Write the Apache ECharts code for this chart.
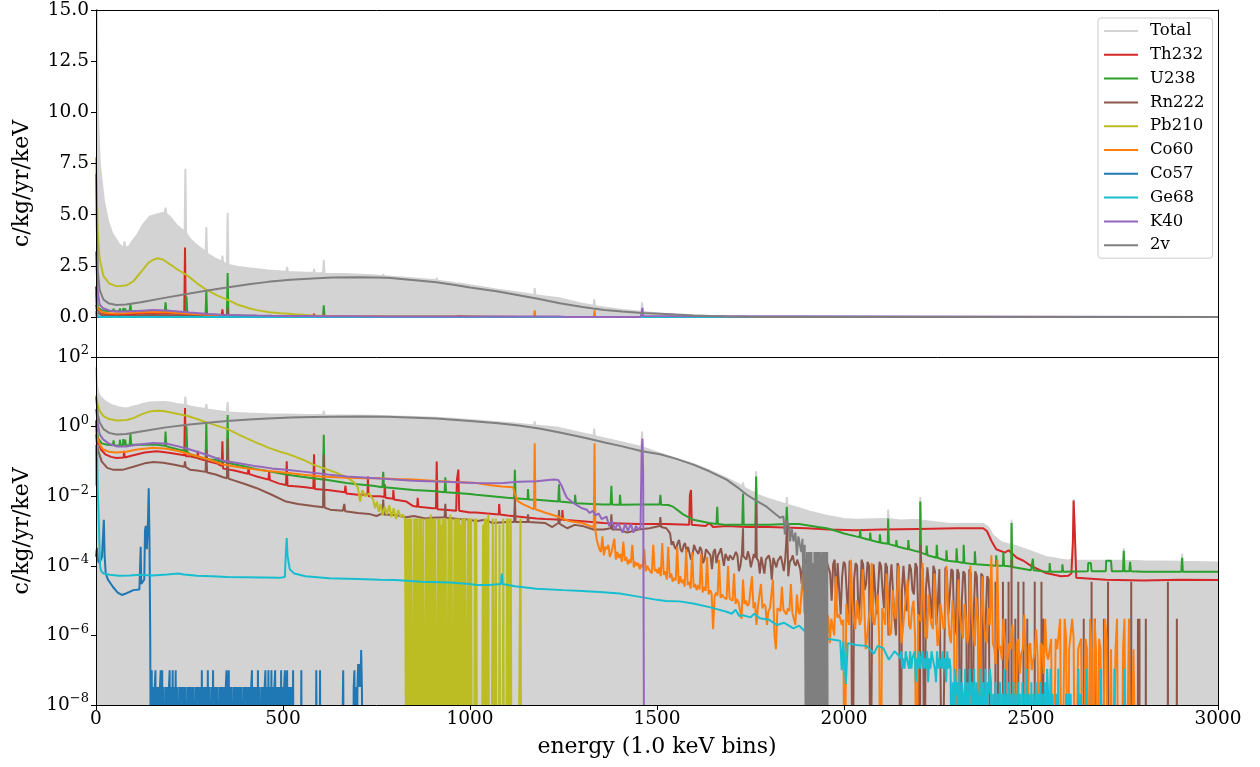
<!DOCTYPE html>
<html>
<head>
<meta charset="utf-8">
<script src="https://cdn.jsdelivr.net/npm/echarts@6/dist/echarts.min.js"></script>
<style>
  html, body { margin: 0; padding: 0; background: #fff; }
  #chart { width: 1260px; height: 767px; }
</style>
</head>
<body>
<div id="chart"></div>
<script>
// ---------------- axes ----------------
const energyTicks = [0, 500, 1000, 1500, 2000, 2500, 3000];
const linTicks = [0, 2.5, 5, 7.5, 10, 12.5, 15];
const logTicks = [1e-8, 1e-6, 1e-4, 1e-2, 1, 100];

const names = ['Total', 'Th232', 'U238', 'Rn222', 'Pb210', 'Co60', 'Co57', 'Ge68', 'K40', '2v'];
const colors = ['#d3d3d3', '#d62728', '#2ca02c', '#8c564b', '#bcbd22', '#ff7f0e', '#1f77b4', '#17becf', '#9467bd', '#7f7f7f'];

// ---------------- spectra: [energy keV, c/kg/yr/keV] ----------------
const totalSpec = [[0,50],[1,30],[3,14],[5,10],[10,7.5],[21,5.7],[32,4.7],[43,4.1],[60,3.6],[74,3.35],[76,3.7],[78,3.4],[88,3.45],[97,3.7],[110,4.0],[125,4.5],[143,4.9],[160,5.0],[176,5.07],[184,5.1],[186,5.35],[188,5.05],[200,4.85],[215,4.5],[231,4.25],[237,4.2],[239,7.25],[241,4.1],[252,3.8],[270,3.5],[285,3.3],[293,3.2],[295,4.4],[297,3.1],[320,2.85],[337,2.7],[338,3.0],[340,2.65],[350,2.6],[352,5.1],[354,2.55],[380,2.45],[409,2.38],[460,2.27],[509,2.22],[511,2.45],[513,2.2],[560,2.17],[582,2.16],[583,2.35],[585,2.15],[607,2.14],[609,2.8],[611,2.12],[660,2.1],[741,2.04],[767,2.0],[768,2.1],[770,2.0],[800,1.96],[853,1.88],[910,1.8],[911,1.92],[913,1.78],[964,1.65],[969,1.7],[971,1.64],[1000,1.55],[1075,1.33],[1119,1.22],[1120,1.3],[1122,1.21],[1172,1.08],[1173,1.42],[1175,1.07],[1238,0.92],[1239,0.98],[1241,0.9],[1297,0.66],[1331,0.55],[1332,0.87],[1334,0.53],[1407,0.35],[1458,0.26],[1460,0.72],[1462,0.25],[1508,0.17],[1550,0.12],[1597,0.085],[1640,0.055],[1686,0.033],[1729,0.019],[1730,0.025],[1732,0.018],[1750,0.014],[1764,0.012],[1765,0.052],[1767,0.011],[1793,0.0088],[1830,0.0065],[1846,0.0058],[1847,0.0095],[1849,0.0056],[1880,0.0045],[1909,0.0036],[1950,0.0028],[2000,0.0022],[2032,0.0021],[2105,0.0022],[2117,0.0022],[2118,0.0041],[2120,0.0022],[2150,0.002],[2203,0.0021],[2204,0.0095],[2206,0.002],[2283,0.0016],[2372,0.0016],[2385,0.0013],[2398,0.00075],[2420,0.00048],[2447,0.0004],[2448,0.0021],[2450,0.0004],[2500,0.00026],[2540,0.00018],[2600,0.00014],[2611,0.00016],[2613,0.001],[2614,0.0082],[2616,0.0082],[2617,0.001],[2619,0.00014],[2700,0.00014],[2747,0.00014],[2748,0.00032],[2750,0.00014],[2800,0.000135],[2903,0.00013],[2904,0.00022],[2906,0.00013],[3000,0.000125]];

const th232Spec = [[0,1.5],[2,0.6],[5,0.4],[8,0.32],[13,0.22],[25,0.16],[40,0.135],[55,0.126],[74,0.13],[75,0.2],[77,0.13],[100,0.15],[130,0.18],[162,0.195],[190,0.18],[220,0.16],[236,0.15],[238,3.4],[240,0.14],[251,0.14],[271,0.125],[272,0.2],[274,0.12],[300,0.1],[326,0.085],[327,0.13],[329,0.08],[336,0.075],[338,0.38],[340,0.062],[370,0.055],[406,0.044],[408,0.07],[410,0.043],[430,0.037],[461,0.03],[463,0.05],[465,0.029],[490,0.023],[508,0.021],[510,0.1],[512,0.02],[540,0.019],[560,0.018],[581,0.017],[583,0.16],[585,0.016],[620,0.015],[665,0.013],[667,0.02],[669,0.012],[700,0.011],[726,0.011],[727,0.037],[729,0.01],[759,0.01],[771,0.0095],[772,0.022],[774,0.009],[794,0.0085],[795,0.015],[797,0.008],[830,0.007],[848,0.0052],[859,0.005],[860,0.009],[862,0.005],[900,0.0045],[909,0.0045],[911,0.1],[913,0.0042],[940,0.004],[963,0.0038],[965,0.03],[969,0.058],[971,0.0038],[1000,0.0034],[1016,0.0034],[1077,0.003],[1078,0.006],[1080,0.003],[1100,0.0028],[1178,0.0023],[1200,0.0022],[1246,0.0021],[1247,0.004],[1249,0.0021],[1300,0.0019],[1357,0.0017],[1450,0.0016],[1524,0.0016],[1586,0.0015],[1588,0.011],[1591,0.015],[1593,0.0015],[1630,0.0014],[1640,0.0017],[1650,0.0013],[1686,0.0014],[1740,0.0013],[1800,0.0013],[1900,0.0012],[1960,0.0011],[2032,0.00105],[2100,0.0011],[2200,0.00115],[2300,0.0012],[2372,0.0012],[2382,0.001],[2395,0.0005],[2407,0.0003],[2430,0.00024],[2440,0.00028],[2462,0.00017],[2480,0.00014],[2500,0.0001],[2540,0.000062],[2580,0.00005],[2600,0.000052],[2608,0.00006],[2612,0.0005],[2614,0.0075],[2616,0.0075],[2618,0.0005],[2621,0.000045],[2625,0.00004],[2700,0.00004],[2800,0.000038],[2900,0.00004],[3000,0.000039]];

const u238Spec = [[0,1.2],[2,0.8],[6,0.45],[15,0.33],[30,0.3],[45,0.29],[47,0.4],[49,0.29],[55,0.28],[63,0.29],[64,0.42],[66,0.28],[72,0.29],[73,0.44],[75,0.29],[77,0.3],[78,0.42],[80,0.29],[90,0.29],[92,0.65],[94,0.3],[120,0.3],[162,0.3],[184,0.28],[186,0.72],[188,0.27],[220,0.22],[240,0.2],[242,1.0],[244,0.19],[251,0.16],[280,0.13],[293,0.12],[295,1.32],[297,0.115],[320,0.11],[340,0.1],[350,0.095],[352,2.15],[354,0.09],[400,0.07],[430,0.06],[470,0.05],[508,0.042],[550,0.036],[580,0.033],[607,0.03],[609,0.58],[611,0.03],[640,0.027],[670,0.024],[700,0.022],[740,0.02],[766,0.018],[768,0.05],[770,0.018],[800,0.017],[848,0.015],[900,0.014],[932,0.013],[934,0.035],[936,0.013],[1000,0.0115],[1016,0.011],[1100,0.009],[1118,0.0088],[1120,0.057],[1122,0.0087],[1154,0.0082],[1155,0.016],[1157,0.008],[1178,0.0079],[1236,0.007],[1238,0.022],[1240,0.007],[1280,0.0064],[1281,0.011],[1283,0.0063],[1357,0.0058],[1376,0.0058],[1378,0.02],[1380,0.0058],[1400,0.0057],[1401,0.011],[1403,0.0057],[1450,0.0058],[1507,0.0058],[1509,0.011],[1511,0.0057],[1530,0.0056],[1543,0.005],[1570,0.003],[1597,0.0021],[1640,0.0017],[1659,0.0016],[1661,0.005],[1663,0.0016],[1686,0.0015],[1728,0.0015],[1730,0.012],[1732,0.0015],[1763,0.0015],[1765,0.037],[1767,0.0015],[1800,0.0015],[1845,0.0016],[1847,0.005],[1849,0.0016],[1880,0.0016],[1930,0.0013],[1954,0.0012],[1980,0.001],[2000,0.00085],[2032,0.0007],[2042,0.00066],[2043,0.0011],[2045,0.00065],[2069,0.00055],[2070,0.0009],[2072,0.00054],[2095,0.00047],[2096,0.0008],[2098,0.00046],[2117,0.00043],[2118,0.0023],[2120,0.00042],[2139,0.00037],[2140,0.00055],[2142,0.00036],[2171,0.0003],[2172,0.00055],[2174,0.0003],[2194,0.00026],[2203,0.00025],[2204,0.007],[2206,0.00024],[2220,0.00021],[2221,0.00038],[2223,0.0002],[2247,0.00017],[2248,0.0004],[2250,0.00017],[2273,0.00014],[2274,0.00028],[2276,0.00014],[2300,0.00013],[2301,0.00032],[2303,0.00013],[2319,0.00012],[2320,0.0004],[2322,0.00012],[2349,0.00011],[2350,0.00026],[2352,0.00011],[2372,0.000107],[2406,0.0001],[2407,0.0002],[2409,0.0001],[2425,0.0001],[2426,0.00025],[2428,0.0001],[2447,0.000095],[2448,0.0017],[2450,0.000093],[2462,0.000088],[2500,0.000075],[2504,0.000074],[2505,0.00016],[2507,0.000074],[2540,0.000068],[2549,0.000068],[2550,0.00012],[2552,0.000068],[2583,0.000068],[2584,0.00011],[2586,0.000068],[2652,0.00007],[2653,0.00012],[2660,0.00012],[2662,0.00007],[2700,0.00007],[2701,0.00014],[2714,0.00014],[2716,0.00007],[2746,0.00007],[2748,0.00027],[2750,0.00007],[2763,0.00007],[2765,0.00013],[2767,0.00007],[2800,0.000068],[2902,0.000068],[2904,0.00017],[2906,0.000068],[3000,0.000068]];

const rn222Spec = [[0,0.6],[2,0.35],[6,0.2],[15,0.1],[30,0.065],[45,0.058],[73,0.058],[100,0.07],[130,0.088],[153,0.096],[180,0.092],[210,0.08],[236,0.07],[238,0.1],[240,0.068],[251,0.058],[270,0.055],[293,0.05],[295,0.22],[297,0.048],[320,0.042],[340,0.035],[350,0.033],[352,0.45],[354,0.032],[400,0.022],[430,0.017],[470,0.011],[508,0.007],[540,0.006],[580,0.0052],[607,0.0048],[609,0.16],[611,0.0047],[626,0.0041],[660,0.0038],[664,0.006],[666,0.0037],[700,0.0033],[730,0.0031],[750,0.0027],[766,0.0032],[768,0.008],[770,0.003],[800,0.0029],[830,0.0025],[850,0.0027],[880,0.0023],[900,0.0024],[932,0.0025],[934,0.006],[936,0.0024],[970,0.0022],[1000,0.0021],[1016,0.0019],[1040,0.0021],[1060,0.0017],[1100,0.0018],[1118,0.0018],[1120,0.009],[1122,0.0018],[1154,0.0018],[1155,0.003],[1157,0.0018],[1200,0.0017],[1220,0.0013],[1236,0.0017],[1238,0.004],[1240,0.0016],[1260,0.0012],[1280,0.0015],[1300,0.0014],[1330,0.0011],[1357,0.0011],[1376,0.0012],[1378,0.003],[1380,0.0011],[1400,0.0011],[1420,0.0009],[1450,0.0011],[1480,0.0012],[1507,0.0014],[1509,0.0025],[1511,0.0013],[1525,0.0012]];
// 8 keV samples from 1535 keV on, and the bins half-way between them (from 1539 keV)
const rn222Noise = [8.5e-4,5e-4,3e-4,5.5e-4,2.5e-4,4.5e-4,3.5e-4,1.5e-4,4e-4,2.8e-4,3.5e-4,1.2e-4,3e-4,2.5e-4,8e-5,3e-4,2e-4,3.2e-4,1e-4,2.5e-4,2e-4,1.5e-4,2.5e-4,7e-5,2.2e-4,1.8e-4,2.6e-4,9e-5,2.2e-4,1.6e-4,6e-5,2e-4,1.5e-4,2e-4,4e-5,1.8e-4,1.4e-4,1.9e-4,7e-5,1.6e-4,1.3e-4,2e-4,1e-4,1.5e-4,3e-5,1.6e-4,1.1e-4,1.4e-4,5e-5,1.5e-4,1e-4,1.4e-4,3e-5,1.3e-4,1e-5,1.5e-4,1.2e-4,4e-6,1.3e-4,2e-5,1.4e-4,0,1.2e-4,3e-6,1.5e-4,2e-5,1.3e-4,0,1.1e-4,4e-6,1.3e-4,2e-5,1.2e-4,1e-6,1.1e-4,3e-6,1.2e-4,0,1e-4,5e-6,1.1e-4,2e-5,1.2e-4,3e-6,1e-4,0,9e-5,1e-5,1e-4,2e-6,8e-5,0,9e-5,4e-6,8e-5,1e-6,8e-5,0,7e-5,3e-6,8e-5,0,7e-5,2e-6,6e-5,0,5e-5,0];
const rn222NoiseMid = [4e-4,3.5e-4,4.5e-4,3e-4,3.8e-4,2.5e-4,3.5e-4,2e-4,3e-4,2.2e-4,2.8e-4,1.5e-4,2.6e-4,2e-4,2.5e-4,1.2e-4,2.4e-4,1.8e-4,2.2e-4,1.4e-4,2.1e-4,1.6e-4,2e-4,1e-4,1.9e-4,1.5e-4,1.8e-4,8e-5,1.7e-4,1.4e-4,1.8e-4,6e-5,1.6e-4,1.3e-4,1.7e-4,9e-5,1.5e-4,1.2e-4,1.6e-4,5e-5,1.5e-4,1.2e-4,1.5e-4,8e-5,1.4e-4,1.1e-4,1.3e-4,4e-5,1.2e-4,8e-5,1.3e-4,2e-5,1.2e-4,6e-5,1.1e-4,1e-5,1.2e-4,5e-5,1.1e-4,3e-6,1.2e-4,4e-5,1e-4,1e-5,1.1e-4,3e-5,1e-4,2e-6,1.1e-4,2e-5,1e-4,6e-6,9e-5,3e-5,1e-4,1e-6,9e-5,2e-5,9e-5,5e-6,8e-5,1.5e-5,9e-5,0,8e-5,2e-5,8e-5,3e-6,7e-5,1e-5,8e-5,0,7e-5,1.5e-5,7e-5,2e-6,6e-5,1e-5,6e-5,0,6e-5,5e-6,5e-5,0,5e-5,3e-6,4e-5];
const rn222NoiseLines = [[1730,1.2e-3],[1765,6e-3],[1848,1.5e-3],[2204,4e-4]];
// isolated non-empty bins above 2400 keV
const rn222Bars = [[2405,3.5e-5],[2412,3e-6],[2425,3.5e-5],[2432,3e-6],[2440,3.5e-5],[2448,1.5e-4],[2458,3e-6],[2466,3.5e-5],[2480,3.5e-5],[2490,3e-6],[2510,3.5e-5],[2528,3.5e-5],[2533,3e-6],[2641,3e-6],[2662,3.5e-5],[2671,3e-6],[2695,3e-6],[2706,3.5e-5],[2768,3.5e-5],[2786,3e-6],[2790,3e-6],[2807,3e-6],[2866,3.5e-5],[2890,3e-6]];

const pb210Spec = [[0,7.8],[2,6.0],[5,4.0],[10,2.8],[20,2.0],[35,1.65],[55,1.5],[82,1.55],[100,1.75],[120,2.2],[140,2.65],[153,2.8],[165,2.87],[180,2.8],[200,2.55],[220,2.3],[243,2.05],[270,1.65],[298,1.3],[325,1.05],[354,0.83],[380,0.6],[409,0.43],[430,0.34],[464,0.24],[492,0.19],[508,0.17],[530,0.14],[555,0.11],[581,0.081],[610,0.063],[643,0.047],[670,0.035],[690,0.025],[700,0.018],[706,0.007],[712,0.015],[720,0.01],[730,0.012],[741,0.008],[746,0.0045],[751,0.007],[756,0.0035],[761,0.006],[766,0.0028],[772,0.005],[778,0.003],[784,0.0055],[790,0.0025],[796,0.0045],[802,0.0022],[808,0.004],[814,0.0025],[820,0.003],[826,0.0022],[829,0.0025],[830,0]];
// 2 keV bins from 831 keV: level index per bin
const pb210TailLevels = [0, 2.3e-3, 1.5e-3, 3e-3];
const pb210TailCodes = '1010101000' + '1010110101' + '1010001010' + '1030101010' + '0010102010' + '1010001030' + '1000101010' + '1020101010' + '0010101000' + '0101000000' + '0020101003' + '0000010001' + '0000200001' + '0000101101' + '0000000000' + '001000';

const co60Spec = [[0,0.9],[2,0.59],[6,0.4],[12,0.28],[19,0.22],[35,0.19],[55,0.18],[80,0.19],[110,0.22],[153,0.245],[190,0.23],[220,0.2],[251,0.16],[300,0.115],[340,0.081],[390,0.066],[430,0.058],[470,0.052],[508,0.047],[550,0.042],[600,0.037],[670,0.034],[720,0.033],[760,0.033],[800,0.031],[848,0.03],[900,0.028],[950,0.026],[1016,0.024],[1050,0.021],[1085,0.019],[1115,0.018],[1120,0.012],[1126,0.0075],[1140,0.006],[1160,0.0048],[1171,0.0042],[1173,0.33],[1175,0.0042],[1178,0.004],[1200,0.0034],[1230,0.0027],[1267,0.0019],[1300,0.0017],[1320,0.0014],[1331,0.0013],[1333,0.33],[1335,0.0011],[1339,0.00055]];
// 8 keV samples from 1346 keV on, and the bins half-way between them (from 1350 keV)
const co60Noise = [3e-4,7e-4,3.5e-4,4e-4,2.4e-4,6e-4,2.5e-4,2.2e-4,5e-4,1.8e-4,1.5e-4,4e-4,1.3e-4,1.2e-4,1.1e-4,3e-4,1e-4,9e-5,4e-4,8e-5,9e-5,4.5e-4,7e-5,3.5e-4,6e-5,4.5e-5,3.5e-4,5e-5,4e-5,3e-4,3.5e-5,2.5e-4,3e-5,2.8e-5,2.2e-4,2.5e-5,1.8e-4,2e-5,1.5e-6,1.7e-5,1.5e-4,1.5e-5,1.3e-5,1e-4,1.2e-5,6e-5,1.1e-5,9e-6,4e-5,1e-5,8e-6,5e-5,9e-6,7e-6,3e-5,8e-6,2e-6,6e-6,4e-5,4e-7,6e-6,2.5e-5,5e-6,6e-6,3e-5,5e-6,1.5e-5,4e-6,6e-5,4e-6,2e-5,3e-6,4e-6,1.5e-4,3e-6,2e-5,4e-6,6e-7,3e-6,5e-5,4e-6,2e-6,0,3e-6,1.5e-4,3e-6,1e-5,2e-6,8e-5,4e-7,3e-6,1.2e-4,2e-6,1.5e-5,0,4e-6,6e-5,1e-6,2e-5,3e-6,1e-4,6e-7,5e-6,4e-5,1.5e-6,1e-5,0,3e-6,1.2e-4,1e-6,1.5e-5,2e-6,6e-5,5e-7,8e-6,1.5e-6,1e-4,1e-6,1e-5,0,4e-5,1.5e-6,8e-6,6e-7,1e-4,1e-6,1.2e-5,0,5e-5,8e-7,6e-6,2e-4,4e-7,1.5e-4,5e-7,3e-6,1e-7,6e-7,2e-6,0,8e-7,3e-7,4e-6,0,6e-7,2e-7,1.5e-6,0,5e-7,3e-6,2e-7,8e-7,0,4e-7,3e-6,0,8e-7,4e-7,3e-6,0,4e-7,8e-7,0,4e-7,3e-6,0,4e-7,8e-7,0,3e-6,0,4e-7,0,3e-6,0,4e-7,0,3e-6,0,4e-7,0];
const co60NoiseMid = [2.5e-4,2e-4,3e-4,1.8e-4,2.2e-4,1.5e-4,1.7e-4,1.3e-4,1.4e-4,1.1e-4,1.2e-4,9e-5,1e-4,8e-5,9e-5,7e-5,8e-5,6e-5,7e-5,6e-5,5e-5,5.5e-5,4e-5,4.5e-5,3.5e-5,3.8e-5,3e-5,3.2e-5,2.5e-5,2.8e-5,2.2e-5,2.4e-5,2e-5,2.1e-5,1.7e-5,1.9e-5,1.5e-5,1.6e-5,1.3e-5,1.4e-5,1.2e-5,1.25e-5,1.1e-5,1.15e-5,1e-5,8e-6,9e-6,3e-6,8e-6,7e-6,8e-6,6e-6,2e-6,7e-6,6e-6,7e-6,5e-6,6e-6,1e-6,6e-6,5e-6,5.5e-6,4e-6,5e-6,4.5e-6,2e-6,5e-6,4e-6,4.5e-6,3.5e-6,4e-6,6e-7,4e-6,3.5e-6,4e-6,3e-6,3.5e-6,3e-6,1e-6,3.2e-6,3e-6,2.8e-6,8e-6,2e-6,1e-5,1.5e-6,6e-6,3e-6,9e-6,1e-6,5e-6,2.5e-6,7e-6,8e-7,6e-6,2e-6,8e-6,1.2e-6,5e-6,3e-6,7e-6,6e-7,5e-6,2e-6,6e-6,1e-6,4e-6,2.5e-6,6e-6,8e-7,4e-6,1.5e-6,5e-6,1e-6,3.5e-6,2e-6,5e-6,6e-7,3e-6,1.5e-6,4e-6,8e-7,3e-6,1.2e-6,3.5e-6,5e-7,2.5e-6,1e-6,3e-6,6e-7,2e-6,6e-7,1.5e-7,4e-7,2e-7,8e-7,1e-7,4e-7,3e-7,6e-7,8e-8,4e-7,2e-7,5e-7,1e-7,3e-7,2e-7,6e-7,8e-8,3e-7,4e-7,0,8e-7,4e-7,0,3e-6,0,4e-7,8e-7,0,4e-7,0,8e-7,0,4e-7,3e-6,0,4e-7,0,8e-7,0,0,4e-7,0,0,3e-6,0,0,4e-7,0];

const co57Spec = [[0,1.8e-4],[1,2.5e-4],[3,3.3e-4],[5,1.5e-4],[8,1.2e-4],[12,1.4e-4],[16,1.8e-4],[19,2e-4],[21,2.1e-3],[23,2e-4],[26,6e-5],[32,4e-5],[45,2.5e-5],[58,1.7e-5],[69,1.45e-5],[80,1.6e-5],[100,2e-5],[116,2.1e-5],[118,2.3e-5],[119.5,3.5e-4],[121,3e-5],[126,2.7e-5],[129,4e-5],[131,1e-3],[133,1.4e-3],[136,3e-4],[139,2e-3],[141,0.017],[143,5e-4],[145,1e-6],[147,0]];
// 2 keV bins from 149 keV: level index per bin
const co57TailLevels = [0, 3.3e-8, 1e-7, 1.5e-7, 3.8e-7];
const co57TailCodes = '2010120101' + '0120201101' + '0101201020' + '1020110101' + '0101011010' + '1010101101' + '0101010201' + '0101020110' + '1020101011' + '0101010101' + '2012010110' + '1010101010' + '1101010101' + '0101201010' + '1020110101' + '0120102010' + '2010120101' + '0102010120' + '1201010102' + '0000000000' + '2000000000' + '0000000000' + '2000020000' + '0000000000' + '0000000000' + '0000002000' + '0000000000' + '12010131314110';

const ge68Spec = [[0,0.3],[1,0.02],[2,0.15],[3,0.3],[4,0.04],[5,0.012],[7,3e-3],[9,5e-4],[11,9.5e-5],[14,7e-5],[20,6e-5],[37,5.5e-5],[60,5.2e-5],[90,5.3e-5],[118,5.5e-5],[150,5.3e-5],[190,5.6e-5],[220,6e-5],[235,5.6e-5],[270,5.2e-5],[310,5e-5],[350,4.8e-5],[400,4.7e-5],[450,4.6e-5],[490,4.5e-5],[505,4.8e-5],[508,3e-4],[510,6.3e-4],[512,2e-4],[518,8e-5],[530,6e-5],[560,5e-5],[623,4.4e-5],[700,4.2e-5],[759,4e-5],[800,3.9e-5],[870,3.5e-5],[946,3.3e-5],[1000,3e-5],[1016,2.8e-5],[1050,2.8e-5],[1083,3e-5],[1085,6e-5],[1087,3e-5],[1120,2.6e-5],[1178,2.2e-5],[1250,2e-5],[1300,1.9e-5],[1357,1.75e-5],[1400,1.6e-5],[1450,1.3e-5],[1500,1.05e-5],[1524,9.8e-6],[1560,9.5e-6],[1597,8.3e-6],[1640,6.5e-6],[1686,4.8e-6],[1700,4.2e-6],[1710,5.5e-6],[1720,3.6e-6],[1730,3.8e-6],[1750,3.3e-6],[1760,4.2e-6],[1775,3.1e-6],[1800,2.8e-6],[1820,2e-6],[1840,2.3e-6],[1865,1.6e-6],[1880,1.9e-6],[1900,1.2e-6],[1920,1.4e-6],[1940,9e-7],[1954,8e-7],[1990,7e-7],[1994,1e-7],[1998,6.5e-7],[2005,4e-8],[2010,6e-7],[2032,5.3e-7],[2060,5e-7],[2080,3e-7],[2090,5e-7],[2105,4.3e-7],[2120,2e-7],[2135,3.5e-7],[2147,2.6e-7]];
// 3 keV bins from 2150 keV: level index per bin
const ge68TailLevels = [0, 2.1e-8, 4.5e-8, 1.1e-7, 2.2e-7, 3.5e-7];
const ge68TailCodes = '453435443534452435345343524354432534435342534' + '302031203021030203120302103012030213' + '20102010201030102010201020102010301020102010201020' + '3103010010' + '3000000101' + '0100000030' + '1000030000' + '0000000030' + '0000000000' + '3000000003' + '0000000000000';

const k40Spec = [[0,3.2],[2,2.2],[5,1.2],[10,0.6],[19,0.43],[35,0.32],[55,0.27],[80,0.27],[110,0.3],[153,0.34],[190,0.32],[220,0.27],[251,0.22],[300,0.15],[340,0.105],[390,0.085],[430,0.072],[470,0.063],[508,0.058],[560,0.05],[620,0.042],[670,0.037],[760,0.032],[848,0.028],[930,0.026],[1016,0.024],[1050,0.0235],[1089,0.024],[1130,0.026],[1178,0.027],[1223,0.03],[1236,0.029],[1245,0.02],[1252,0.013],[1259,0.009],[1275,0.0065],[1290,0.0052],[1300,0.0045],[1312,0.0041],[1320,0.0033],[1328,0.0038],[1336,0.0028],[1344,0.0032],[1352,0.0022],[1357,0.0021],[1365,0.0026],[1372,0.0014],[1380,0.0019],[1388,0.0011],[1395,0.0017],[1401,0.0013],[1408,0.0009],[1415,0.0016],[1422,0.001],[1430,0.0016],[1437,0.0009],[1444,0.0014],[1450,0.0011],[1456,0.0013],[1459,0.2],[1461,0.45],[1463,0.05],[1466,0],[3000,0]];

const twoNuSpec = [[0,7],[2,4.5],[5,2.2],[10,1.3],[20,0.85],[35,0.66],[55,0.59],[80,0.61],[120,0.72],[187,0.95],[250,1.15],[298,1.3],[350,1.45],[409,1.6],[460,1.72],[520,1.82],[580,1.89],[631,1.93],[708,1.95],[780,1.92],[853,1.8],[910,1.7],[964,1.56],[1000,1.45],[1075,1.25],[1130,1.07],[1185,0.88],[1240,0.68],[1297,0.5],[1329,0.42],[1360,0.35],[1407,0.27],[1460,0.195],[1508,0.16],[1550,0.12],[1597,0.081],[1640,0.052],[1686,0.03],[1715,0.018],[1740,0.011],[1765,0.0075],[1793,0.005],[1810,0.0035],[1829,0.0024],[1838,0.0026],[1842,0.0008],[1846,0.002],[1852,0.0015],[1856,0.0005],[1860,0.0012],[1865,0.0005],[1870,0.0009],[1874,0.0002],[1878,0.0007],[1882,0.0004],[1886,0.00025],[1889,0.0006],[1892,0.00002],[1895,0.0004]];
// 2 keV bins from 1897 keV: level index per bin
const twoNuTailLevels = [0, 2.5e-4, 4e-4, 1.2e-4];
const twoNuTailCodes = '2010101010' + '3010101010' + '1301010101' + '0';

// ---------------- assembling the curves ----------------
function fromCodes(start, step, levels, codes) {
  const pts = [];
  for (let i = 0; i < codes.length; i++) pts.push([start + i * step, levels[Number(codes[i])]]);
  return pts;
}
function fromSteps(start, step, values) {
  return values.map((v, i) => [start + i * step, v]);
}
function spikes(bins) {
  const pts = [];
  bins.forEach(([e, v]) => pts.push([e - 0.5, 0], [e, v], [e + 0.5, 0]));
  return pts;
}
const byEnergy = (a, b) => a[0] - b[0];

const curves = {
  'Total': totalSpec,
  'Th232': th232Spec,
  'U238': u238Spec,
  'Rn222': rn222Spec.concat(fromSteps(1535, 8, rn222Noise), fromSteps(1539, 8, rn222NoiseMid), rn222NoiseLines)
            .sort(byEnergy).concat(spikes(rn222Bars), [[3000, 0]]),
  'Pb210': pb210Spec.concat(fromCodes(831, 2, pb210TailLevels, pb210TailCodes), [[1143, 0], [3000, 0]]),
  'Co60': co60Spec.concat(fromSteps(1346, 8, co60Noise), fromSteps(1350, 8, co60NoiseMid))
            .sort(byEnergy).concat([[3000, 0]]),
  'Co57': co57Spec.concat(fromCodes(149, 2, co57TailLevels, co57TailCodes), [[3000, 0]]),
  'Ge68': ge68Spec.concat(fromCodes(2150, 3, ge68TailLevels, ge68TailCodes), [[3000, 0]]),
  'K40': k40Spec,
  '2v': twoNuSpec.concat(fromCodes(1897, 2, twoNuTailLevels, twoNuTailCodes), [[1959, 0], [3000, 0]])
};

// ---------------- chart ----------------
const FONT = 'DejaVu Serif';
const BLACK = '#000';
const FLOOR = 1e-12; // empty bins sit below the log axis and are clipped

function supLabel(v) {
  const p = Math.round(Math.log10(v));
  return '{b|10}{s|' + (p < 0 ? '\u2212' + (-p) : String(p)) + '}';
}

const series = [];
[0, 1].forEach(panel => {
  names.forEach((name, k) => {
    const color = colors[k];
    const raw = curves[name];
    const data = panel === 1 ? raw.map(([e, v]) => [e, v > 0 ? v : FLOOR]) : raw;
    const s = {
      name: name,
      type: 'line',
      xAxisIndex: panel,
      yAxisIndex: panel,
      data: data,
      showSymbol: false,
      symbol: 'none',
      silent: true,
      animation: false,
      clip: true,
      lineStyle: { color: color, width: 2 },
      itemStyle: { color: color },
      emphasis: { disabled: true }
    };
    if (name === 'Total') {
      s.areaStyle = { color: color, opacity: 1, origin: panel === 1 ? 'start' : 'auto' };
    }
    series.push(s);
  });
});

const frameAxis = (extra) => Object.assign({
  type: 'value', min: 0, max: 1,
  axisLine: { show: true, onZero: false, lineStyle: { color: BLACK, width: 1 } },
  axisTick: { show: false }, axisLabel: { show: false }, splitLine: { show: false },
  z: 5
}, extra);

const option = {
  animation: false,
  backgroundColor: '#fff',
  grid: [
    { left: 96, top: 10, width: 1122, height: 347 },
    { left: 96, top: 357, width: 1122, height: 348 }
  ],
  xAxis: [
    frameAxis({ gridIndex: 0, position: 'bottom', min: 0, max: 3000 }),
    {
      gridIndex: 1, type: 'value', min: 0, max: 3000, interval: 500, position: 'bottom',
      axisLine: { show: true, onZero: false, lineStyle: { color: BLACK, width: 1 } },
      axisTick: { show: true, length: 5, lineStyle: { color: BLACK }, customValues: energyTicks },
      axisLabel: { customValues: energyTicks, formatter: v => String(v), fontFamily: FONT, fontSize: 18.5, color: BLACK, margin: 5 },
      splitLine: { show: false },
      name: 'energy (1.0 keV bins)', nameLocation: 'middle', nameGap: 31,
      nameTextStyle: { fontFamily: FONT, fontSize: 22, color: BLACK },
      z: 5
    },
    frameAxis({ gridIndex: 0, position: 'top', min: 0, max: 3000 })
  ],
  yAxis: [
    {
      gridIndex: 0, type: 'value', min: -1.95, max: 15, position: 'left',
      axisLine: { show: true, onZero: false, lineStyle: { color: BLACK, width: 1 } },
      axisTick: { show: true, length: 5, lineStyle: { color: BLACK }, customValues: linTicks },
      axisLabel: { customValues: linTicks, formatter: v => v.toFixed(1), fontFamily: FONT, fontSize: 18.5, color: BLACK, margin: 7 },
      splitLine: { show: false },
      name: 'c/kg/yr/keV', nameLocation: 'middle', nameGap: 63,
      nameTextStyle: { fontFamily: FONT, fontSize: 22, color: BLACK },
      z: 5
    },
    {
      gridIndex: 1, type: 'log', logBase: 10, min: 1e-8, max: 100, position: 'left',
      axisLine: { show: true, onZero: false, lineStyle: { color: BLACK, width: 1 } },
      axisTick: { show: true, length: 5, lineStyle: { color: BLACK }, customValues: logTicks },
      axisLabel: {
        customValues: logTicks, formatter: supLabel, margin: 7,
        rich: {
          b: { fontFamily: FONT, fontSize: 18.5, color: BLACK },
          s: { fontFamily: FONT, fontSize: 13, color: BLACK, padding: [0, 0, 12, 0] }
        }
      },
      splitLine: { show: false },
      name: 'c/kg/yr/keV', nameLocation: 'middle', nameGap: 63,
      nameTextStyle: { fontFamily: FONT, fontSize: 22, color: BLACK },
      z: 5
    },
    frameAxis({ gridIndex: 0, position: 'right' }),
    frameAxis({ gridIndex: 1, position: 'right' })
  ],
  legend: {
    data: names.map(n => ({ name: n, icon: 'rect' })),
    orient: 'vertical',
    left: 1098, top: 18,
    padding: [4, 8, 4, 6],
    itemWidth: 34, itemHeight: 2, itemGap: 5.8,
    selectedMode: false,
    backgroundColor: 'rgba(255,255,255,0.8)',
    borderColor: '#cccccc', borderWidth: 1, borderRadius: 3,
    textStyle: { fontFamily: FONT, fontSize: 16.5, color: BLACK, lineHeight: 18, padding: [0, 0, 0, 7] },
    z: 10
  },
  series: series
};

const chart = echarts.init(document.getElementById('chart'), null, { renderer: 'canvas' });
chart.setOption(option);
</script>
</body>
</html>
